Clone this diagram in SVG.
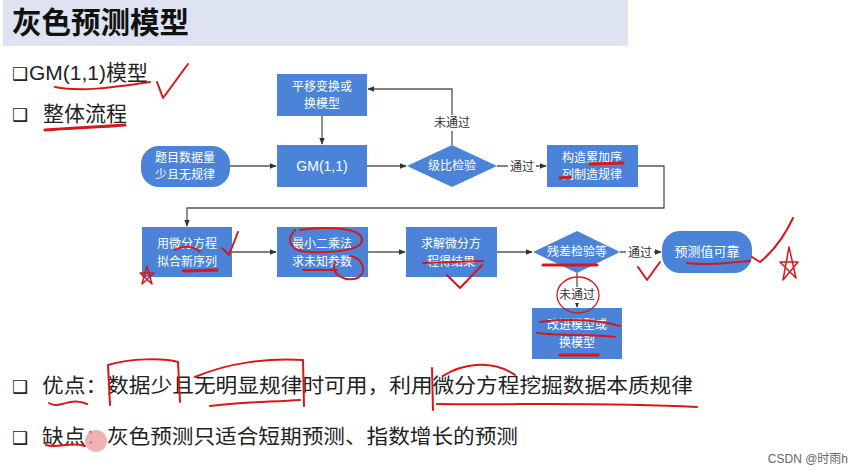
<svg xmlns="http://www.w3.org/2000/svg" width="857" height="475" viewBox="0 0 857 475">
<defs>
<marker id="arr" viewBox="0 0 10 10" refX="9" refY="5" markerWidth="7" markerHeight="7" orient="auto" markerUnits="userSpaceOnUse"><path d="M0,1 L10,5 L0,9 z" fill="#333"/></marker>
<style>
.node{fill:#4a83d8;}
.nt{font-family:"Liberation Sans","Noto Sans CJK SC",sans-serif;font-size:12px;fill:#fff;text-anchor:middle;}
.conn{stroke:#555;stroke-width:1.3;fill:none;}
.lbl{font-family:"Liberation Sans","Noto Sans CJK SC",sans-serif;font-size:12px;fill:#333;text-anchor:middle;}
.lblbg{fill:#fff;}
.body{font-family:"Liberation Sans","Noto Sans CJK SC",sans-serif;font-size:20px;fill:#222;}
.bul{font-family:"DejaVu Sans",sans-serif;font-size:18px;font-weight:bold;fill:#222;}
.red{stroke:#d81818;stroke-width:2;fill:none;stroke-linecap:round;stroke-linejoin:round;}
</style>
</defs>
<rect width="857" height="475" fill="#fff"/>
<g id="title">
<rect x="3" y="0" width="625" height="46" fill="#dde3f1"/>
<text x="12" y="33" style="font-family:'Noto Sans CJK SC',sans-serif;font-size:29.5px;font-weight:bold;fill:#111;">灰色预测模型</text>
</g>
<g id="headings">
<text x="12" y="80" class="bul">❑</text>
<text x="29" y="80" class="body" style="font-size:21px">GM(1,1)模型</text>
<text x="12" y="121" class="bul">❑</text>
<text x="43" y="121" class="body" style="font-size:21px">整体流程</text>
</g>
<g id="connectors">
<line class="conn" x1="322" y1="116" x2="322" y2="144" marker-end="url(#arr)"/>
<line class="conn" x1="230" y1="166" x2="276" y2="166" marker-end="url(#arr)"/>
<line class="conn" x1="367" y1="166" x2="406" y2="166" marker-end="url(#arr)"/>
<polyline class="conn" points="452,145 452,89 368,89" marker-end="url(#arr)"/>
<line class="conn" x1="497" y1="166" x2="546" y2="166" marker-end="url(#arr)"/>
<polyline class="conn" points="638,166 664,166 664,208 187,208 187,226" marker-end="url(#arr)"/>
<line class="conn" x1="232" y1="252" x2="276" y2="252" marker-end="url(#arr)"/>
<line class="conn" x1="368" y1="252" x2="405" y2="252" marker-end="url(#arr)"/>
<line class="conn" x1="497" y1="252" x2="532" y2="252" marker-end="url(#arr)"/>
<line class="conn" x1="620" y1="252" x2="661" y2="252" marker-end="url(#arr)"/>
<line class="conn" x1="577" y1="273" x2="577" y2="307" marker-end="url(#arr)"/>
<rect class="lblbg" x="430" y="115" width="44" height="16"/>
<text class="lbl" x="452" y="127">未通过</text>
<rect class="lblbg" x="508" y="158" width="28" height="16"/>
<text class="lbl" x="522" y="171">通过</text>
<rect class="lblbg" x="626" y="244" width="28" height="16"/>
<text class="lbl" x="640" y="257">通过</text>
<rect class="lblbg" x="555" y="287" width="44" height="16"/>
<text class="lbl" x="577" y="299">未通过</text>
</g>
<g id="n_shift">
<rect class="node" x="277" y="74" width="90" height="42"/>
<text class="nt" x="322" y="91">平移变换或</text>
<text class="nt" x="322" y="108">换模型</text>
</g>
<g id="n_data">
<rect class="node" x="141" y="146" width="89" height="41" rx="18"/>
<text class="nt" x="185" y="162">题目数据量</text>
<text class="nt" x="185" y="179">少且无规律</text>
</g>
<g id="n_gm">
<rect class="node" x="277" y="145" width="90" height="42"/>
<text class="nt" x="322" y="171" style="font-size:14px">GM(1,1)</text>
</g>
<g id="n_ratio">
<polygon class="node" points="407,166 452,145 497,166 452,187"/>
<text class="nt" x="452" y="170">级比检验</text>
</g>
<g id="n_accum">
<rect class="node" x="547" y="145" width="91" height="42"/>
<text class="nt" x="592" y="162">构造累加序</text>
<text class="nt" x="592" y="179">列制造规律</text>
</g>
<g id="n_fit">
<rect class="node" x="142" y="227" width="90" height="50"/>
<text class="nt" x="187" y="248">用微分方程</text>
<text class="nt" x="187" y="266">拟合新序列</text>
</g>
<g id="n_ls">
<rect class="node" x="277" y="227" width="91" height="50"/>
<text class="nt" x="322" y="248">最小二乘法</text>
<text class="nt" x="322" y="266">求未知参数</text>
</g>
<g id="n_solve">
<rect class="node" x="406" y="227" width="91" height="50"/>
<text class="nt" x="451" y="248">求解微分方</text>
<text class="nt" x="451" y="266">程得结果</text>
</g>
<g id="n_resid">
<polygon class="node" points="533,252 577,231 620,252 577,273"/>
<text class="nt" x="577" y="256">残差检验等</text>
</g>
<g id="n_reliable">
<rect class="node" x="662" y="231" width="90" height="42" rx="18"/>
<text class="nt" x="707" y="256" style="font-size:13px">预测值可靠</text>
</g>
<g id="n_improve">
<rect class="node" x="532" y="308" width="90" height="51"/>
<text class="nt" x="577" y="329">改进模型或</text>
<text class="nt" x="577" y="347">换模型</text>
</g>
<g id="bullets">
<text x="12" y="393" class="bul">❑</text>
<text x="42" y="393" class="body" textLength="651" lengthAdjust="spacingAndGlyphs">优点：数据少且无明显规律时可用，利用微分方程挖掘数据本质规律</text>
<text x="12" y="444" class="bul">❑</text>
<text x="42" y="444" class="body" textLength="476" lengthAdjust="spacingAndGlyphs">缺点：灰色预测只适合短期预测、指数增长的预测</text>
</g>
<text x="848" y="463" style="font-family:'Liberation Sans','Noto Sans CJK SC',sans-serif;font-size:12px;fill:#666;text-anchor:end;">CSDN @时雨h</text>
<g id="annotations">
<path class="red" d="M55,87 C80,92 110,88 150,82"/>
<path class="red" d="M157,82 L163,98 L188,64"/>
<path class="red" style="stroke-width:3" d="M45,130 C70,128 100,127 125,125"/>
<path class="red" d="M222,248 L229,255 L238,232"/>
<path class="red" d="M175,250 C185,244 195,247 200,252"/>
<path class="red" style="stroke-width:3" d="M183,271 L217,270"/>
<path class="red" style="stroke-width:1.5" d="M142,284 L147,266 L152,284 L140,273 L154,273 Z"/>
<path class="red" d="M295,230 C285,240 290,252 310,252 C335,253 362,250 362,240 C362,228 330,226 300,230"/>
<path class="red" d="M335,262 C330,275 345,282 358,278 C368,270 362,258 350,256"/>
<path class="red" d="M303,270 L337,270"/>
<path class="red" style="stroke-width:3" d="M590,164 L623,163 M560,178 L570,177"/>
<path class="red" d="M423,263 L483,261"/>
<path class="red" d="M447,275 L460,288 L482,265"/>
<path class="red" style="stroke-width:3" d="M543,265 L597,265"/>
<ellipse class="red" style="stroke-width:1.3" cx="578" cy="295" rx="21" ry="18"/>
<path class="red" d="M638,267 L647,280 L660,262"/>
<path class="red" d="M687,263 C710,266 730,262 750,261"/>
<path class="red" d="M752,257 L760,262 C775,250 785,235 793,218"/>
<path class="red" style="stroke-width:1.5" d="M783,280 L789,247 L796,278 L780,262 L798,262 Z"/>
<path class="red" d="M540,322 C560,318 600,320 620,326 M537,333 C560,336 590,334 615,337"/>
<path class="red" style="stroke-width:3" d="M560,355 L598,355"/>
<path class="red" d="M110,405 L108,365 C130,358 165,358 178,362 L180,402"/>
<path class="red" d="M195,377 C230,362 270,358 303,360 L304,406 M210,406 C240,402 270,402 300,400"/>
<path class="red" d="M432,368 L433,410 M443,376 C460,365 490,358 515,375 M437,404 C520,405 600,402 697,407"/>
<path class="red" d="M49,403 C60,410 70,396 87,404"/>
<path class="red" d="M46,445 C58,449 70,441 85,446"/>
<circle cx="96" cy="441" r="11" fill="#f0a4a4" opacity="0.85"/>
</g>
</svg>
